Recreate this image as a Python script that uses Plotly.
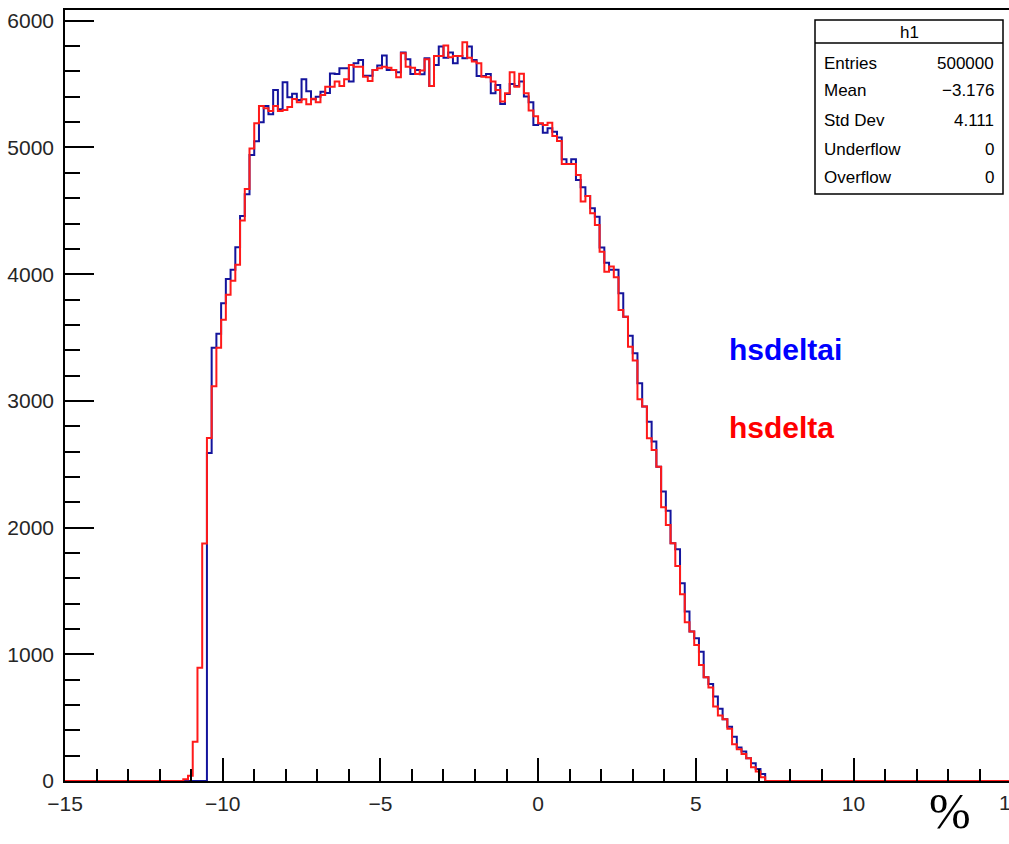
import plotly.graph_objects as go

# ---------------- data ----------------
n_bins = 200
x_min, x_max = -15.0, 15.0

blue_first_bin = 30
blue_counts = [
    2589, 3419, 3530, 3771, 3962, 4035, 4212, 4460, 4631, 4941,
    5049, 5199, 5328, 5262, 5454, 5302, 5515, 5396, 5425, 5375,
    5538, 5444, 5380, 5400, 5440, 5430, 5583, 5580, 5625, 5625,
    5520, 5665, 5691, 5567, 5567, 5612, 5646, 5725, 5612, 5612,
    5594, 5749, 5696, 5580, 5612, 5578, 5704, 5486, 5651, 5796,
    5709, 5749, 5665, 5722, 5704, 5796, 5691, 5565, 5565, 5580,
    5428, 5494, 5344, 5423, 5500, 5486, 5520, 5402, 5357, 5178,
    5188, 5117, 5152, 5125, 5078, 4907, 4870, 4907, 4744, 4686,
    4618, 4520, 4454, 4210, 4091, 4034, 4034, 3849, 3665, 3515,
    3376, 3139, 2955, 2836, 2679, 2481, 2284, 2132, 1876, 1829,
    1561, 1337, 1179, 1127, 1021, 819, 766, 666, 571, 487,
    429, 350, 264, 232, 179, 140, 95, 56,
]

red_first_bin = 25
red_counts = [
    13, 42, 310, 894, 1874, 2707, 3115, 3419, 3641, 3837,
    3949, 4075, 4423, 4673, 4991, 5191, 5328, 5310, 5288, 5328,
    5288, 5295, 5320, 5383, 5357, 5380, 5341, 5384, 5357, 5415,
    5480, 5480, 5520, 5486, 5538, 5651, 5638, 5638, 5559, 5525,
    5612, 5625, 5638, 5630, 5612, 5554, 5744, 5638, 5630, 5580,
    5607, 5696, 5486, 5722, 5722, 5804, 5712, 5722, 5722, 5830,
    5709, 5678, 5665, 5559, 5554, 5520, 5454, 5362, 5428, 5594,
    5480, 5582, 5428, 5291, 5246, 5191, 5178, 5196, 5091, 5052,
    4870, 4870, 4870, 4783, 4573, 4618, 4481, 4389, 4178, 4020,
    4060, 3976, 3718, 3665, 3428, 3318, 3013, 2955, 2705, 2613,
    2481, 2160, 2021, 1876, 1697, 1474, 1253, 1179, 1074, 916,
    819, 737, 587, 516, 487, 413, 290, 250, 214, 179,
    108, 74, 29,
]

stats_labels = ["Entries", "Mean", "Std Dev", "Underflow", "Overflow"]
stats_values = ["500000", "\u22123.176", "4.111", "0", "0"]
legend_names = ["hsdeltai", "hsdelta"]

# ---------------- helpers ----------------
bw = (x_max - x_min) / n_bins
edges = [x_min + i * bw for i in range(n_bins + 1)]


def full_counts(first, vals):
    c = [0] * n_bins
    for i, v in enumerate(vals):
        c[first + i] = v
    return c


def step_xy(counts):
    return edges, counts + [counts[-1]]


blue_full = full_counts(blue_first_bin, blue_counts)
red_full = full_counts(red_first_bin, red_counts)

W, H = 1009, 844
L, R, T, B = 65, 0, 10, 63
PW, PH = W - L - R, H - T - B
px_per_unit = 31.54
x_right = x_min + PW / px_per_unit
y_top = 6085


def xp(px):
    return (px - L) / PW


def yp(py):
    return (H - B - py) / PH


fig = go.Figure()
bx, by = step_xy(blue_full)
fig.add_trace(go.Scatter(x=bx, y=by, mode="lines", line=dict(shape="hv", color="#14149c", width=2),
                         name=legend_names[0], hoverinfo="skip"))
rx, ry = step_xy(red_full)
fig.add_trace(go.Scatter(x=rx, y=ry, mode="lines", line=dict(shape="hv", color="#ff1a1a", width=2),
                         name=legend_names[1], hoverinfo="skip"))

tick_font = dict(family="Liberation Sans, Arial", size=21, color="#262626")

fig.update_layout(
    width=W, height=H,
    margin=dict(l=L, r=R, t=T, b=B, pad=0),
    paper_bgcolor="white", plot_bgcolor="white",
    showlegend=False,
    xaxis=dict(range=[x_min, x_right], tickmode="linear", tick0=-15, dtick=5,
               ticks="inside", ticklen=23, tickwidth=1.5, tickcolor="black",
               minor=dict(ticks="inside", ticklen=12, dtick=1, tickwidth=1.5, tickcolor="black"),
               showline=True, linecolor="black", linewidth=1.5, mirror=True,
               showgrid=False, zeroline=False, tickfont=tick_font, ticklabelstandoff=3),
    yaxis=dict(range=[0, y_top], tickmode="linear", tick0=0, dtick=1000,
               ticks="inside", ticklen=29, tickwidth=1.5, tickcolor="black",
               minor=dict(ticks="inside", ticklen=15, dtick=200, tickwidth=1.5, tickcolor="black"),
               showline=True, linecolor="black", linewidth=1.5, mirror=False,
               showgrid=False, zeroline=False, tickfont=tick_font, ticklabelstandoff=5),
)

# Stats box
bx0, bx1, by0, by1, bsep = 815, 1003, 20, 194, 43
fig.add_shape(type="rect", xref="paper", yref="paper", x0=xp(bx0), x1=xp(bx1), y0=yp(by1), y1=yp(by0),
              line=dict(color="black", width=1.5), fillcolor="white", layer="above")
fig.add_shape(type="line", xref="paper", yref="paper", x0=xp(bx0), x1=xp(bx1), y0=yp(bsep), y1=yp(bsep),
              line=dict(color="black", width=1.5), layer="above")
stat_font = dict(family="Liberation Sans, Arial", size=17, color="black")
fig.add_annotation(text="h1", xref="paper", yref="paper", x=xp((bx0 + bx1) / 2), y=yp(32),
                   showarrow=False, font=stat_font, xanchor="center", yanchor="middle")
row_y = [64, 91, 120, 149, 177]
for lab, val, yy in zip(stats_labels, stats_values, row_y):
    fig.add_annotation(text=lab, xref="paper", yref="paper", x=xp(822), y=yp(yy), showarrow=False,
                       font=stat_font, xanchor="left", yanchor="middle")
    fig.add_annotation(text=val, xref="paper", yref="paper", x=xp(996), y=yp(yy), showarrow=False,
                       font=stat_font, xanchor="right", yanchor="middle")

# Legend-like labels
leg_font = dict(family="Liberation Sans, Arial", size=30)
fig.add_annotation(text="<b>%s</b>" % legend_names[0], xref="paper", yref="paper", x=xp(727), y=yp(349),
                   showarrow=False, font=dict(leg_font, color="#0000ff"), xanchor="left", yanchor="middle")
fig.add_annotation(text="<b>%s</b>" % legend_names[1], xref="paper", yref="paper", x=xp(727), y=yp(427),
                   showarrow=False, font=dict(leg_font, color="#ff0000"), xanchor="left", yanchor="middle")

# cut-off "15" tick label at the right edge (as in the reference)
fig.add_annotation(text="15", xref="paper", yref="paper", x=xp(1010), y=yp(803), showarrow=False,
                   font=tick_font, xanchor="center", yanchor="middle")

# unit label
fig.add_annotation(text="%", xref="paper", yref="paper", x=xp(950), y=yp(811), showarrow=False,
                   font=dict(family="Liberation Serif, Times New Roman, serif", size=50, color="black"),
                   xanchor="center", yanchor="middle")

fig.write_html("out.html")
